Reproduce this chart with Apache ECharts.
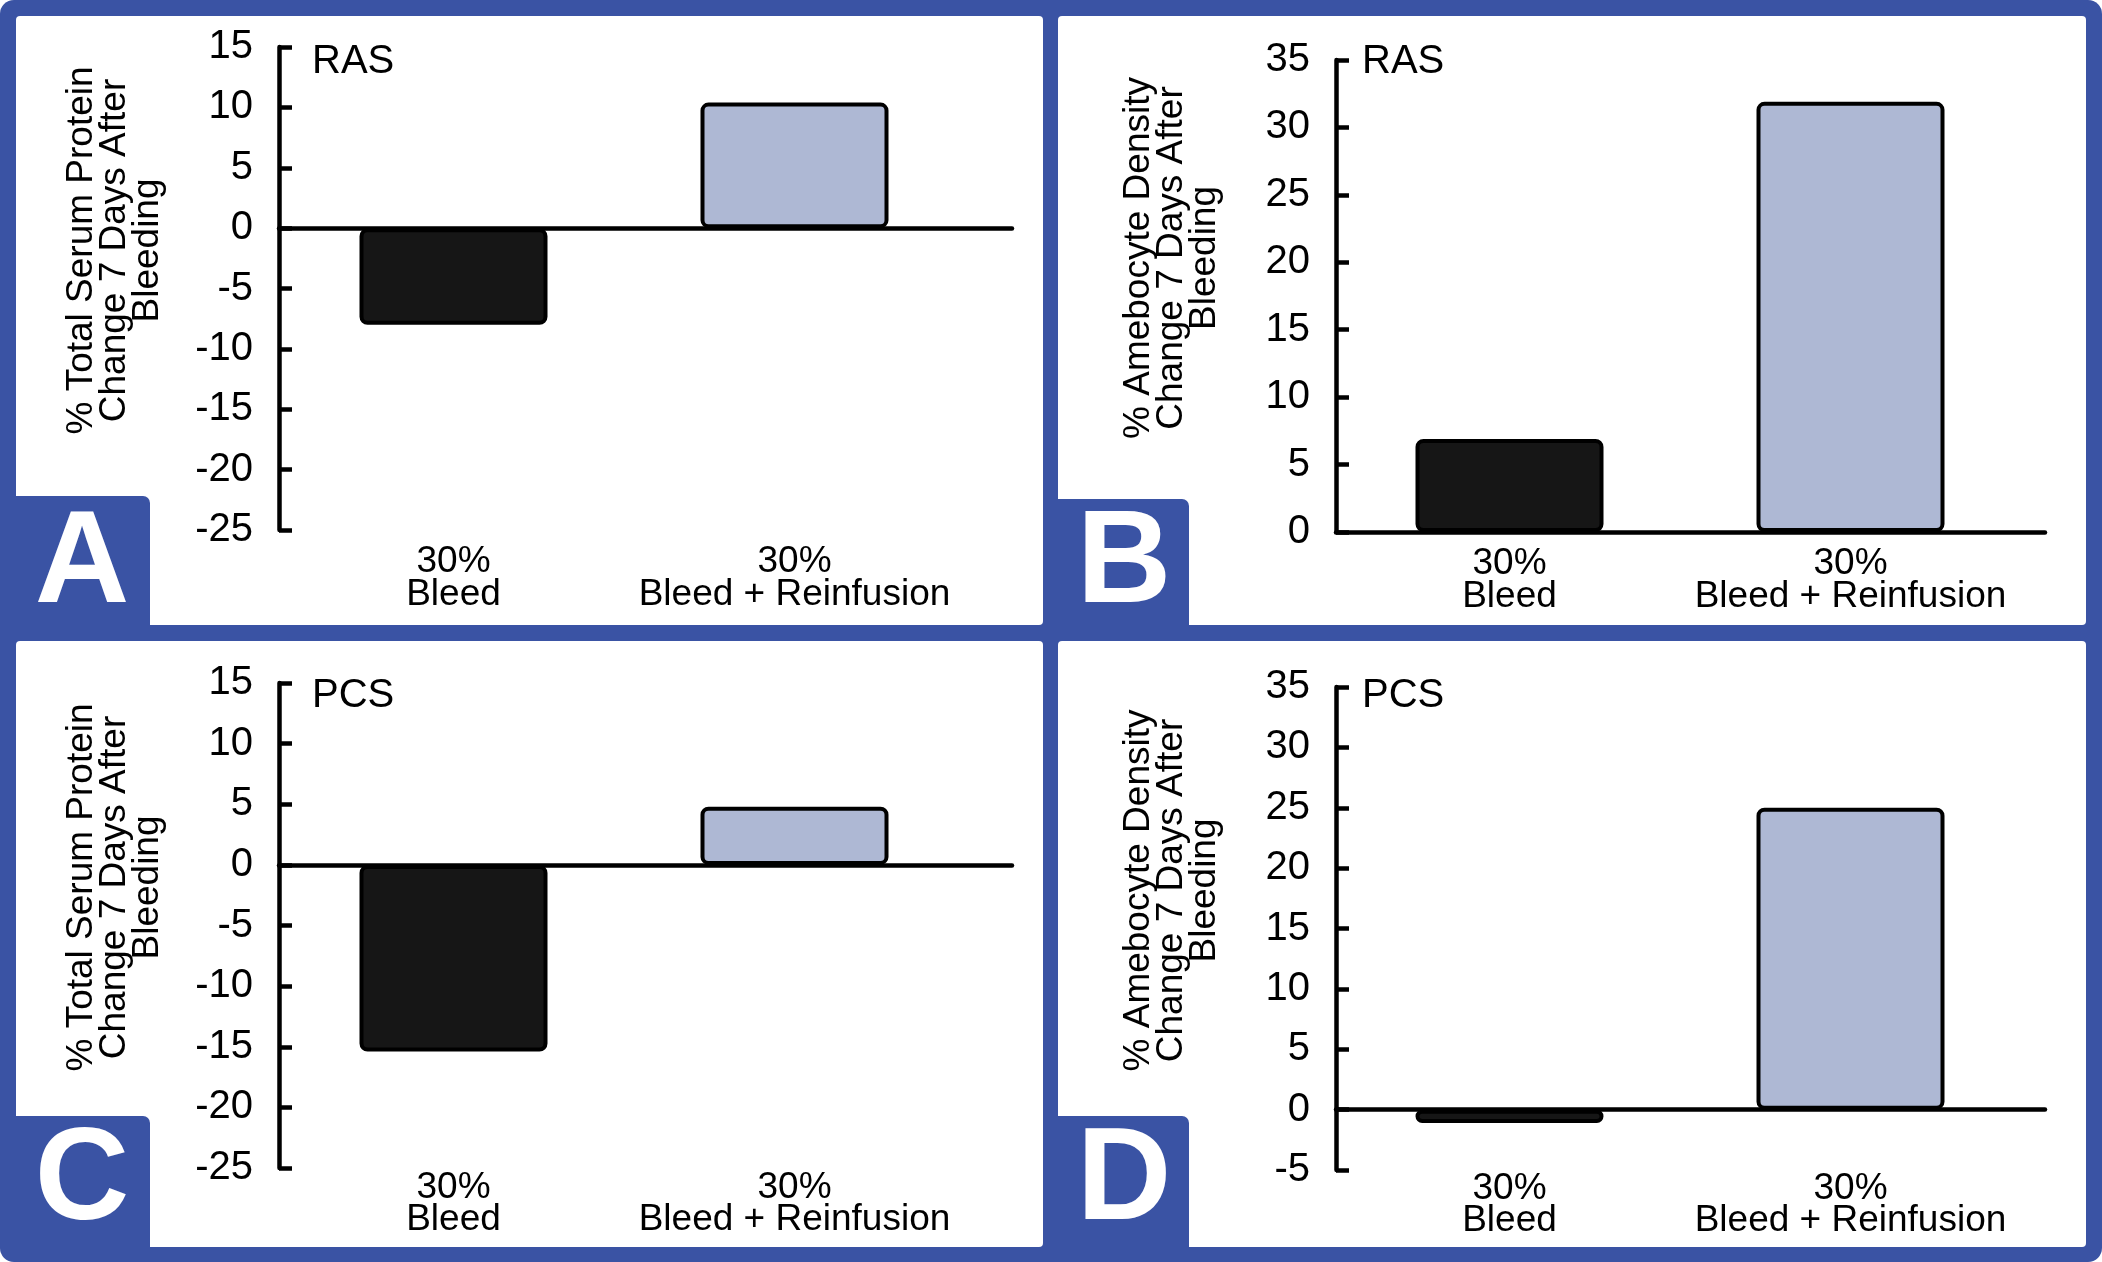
<!DOCTYPE html>
<html>
<head>
<meta charset="utf-8">
<title>Bleeding effects</title>
<script src="https://cdn.jsdelivr.net/npm/echarts@6/dist/echarts.min.js"></script>
<style>
  html, body { margin: 0; padding: 0; background: #fff; }
  #main { width: 2102px; height: 1262px; }
</style>
</head>
<body>
<div id="main"></div>
<script>
// data
var categories = ['30%\nBleed', '30%\nBleed + Reinfusion'];
var rasProtein = [-8.0, 10.4];
var rasAmebocyte = [6.9, 31.9];
var pcsProtein = [-15.4, 4.8];
var pcsAmebocyte = [-1.1, 25.0];
var barColors = ['#161616', '#aeb8d4'];
var proteinName = '% Total Serum Protein\nChange 7 Days After\nBleeding';
var amebocyteName = '% Amebocyte Density\nChange 7 Days After\nBleeding';

var FONT = "'Liberation Sans', Arial, sans-serif";
var BLUE = '#3a53a4';
var LW = 4.5;

// panel layout (pixels)
var panels = [
  {letter: 'A', tag: 'RAS', data: rasProtein, name: proteinName, min: -25, max: 15,
   axisX: 279, axisR: 1012, barsX: 283, top: 47, h: 483, labMargin: 15, labLH: 33,
   box: [16, 16, 1027, 609], lbox: [16, 496, 134, 129], lc: [82, 566], tagPos: [312, 42]},
  {letter: 'B', tag: 'RAS', data: rasAmebocyte, name: amebocyteName, min: 0, max: 35,
   axisX: 1336, axisR: 2045, barsX: 1339, top: 60, h: 472, labMargin: 15, labLH: 33,
   box: [1058, 16, 1028, 609], lbox: [1058, 499, 131, 126], lc: [1124, 566], tagPos: [1362, 42]},
  {letter: 'C', tag: 'PCS', data: pcsProtein, name: proteinName, min: -25, max: 15,
   axisX: 279, axisR: 1012, barsX: 283, top: 683, h: 485, labMargin: 4, labLH: 32,
   box: [16, 641, 1027, 606], lbox: [16, 1116, 134, 131], lc: [82, 1183], tagPos: [312, 676]},
  {letter: 'D', tag: 'PCS', data: pcsAmebocyte, name: amebocyteName, min: -5, max: 35,
   axisX: 1336, axisR: 2045, barsX: 1339, top: 687, h: 483, labMargin: 3, labLH: 32,
   box: [1058, 641, 1028, 606], lbox: [1058, 1116, 131, 131], lc: [1124, 1183], tagPos: [1362, 676]}
];

var grid = [], xAxis = [], yAxis = [], series = [], title = [];
var graphic = [{type: 'rect', shape: {x: 0, y: 0, width: 2102, height: 1262, r: 14},
  style: {fill: BLUE}, z: -10}];

panels.forEach(function (p, i) {
  var full = 2 * i, bars = 2 * i + 1;
  // grid carrying the visible y axis and the zero line
  grid.push({left: p.axisX, top: p.top, width: p.axisR - p.axisX, height: p.h});
  // grid carrying the bars and category labels
  grid.push({left: p.barsX, top: p.top, width: 682, height: p.h});

  xAxis.push({type: 'category', gridIndex: full, data: [''],
    axisLine: {onZero: true, lineStyle: {color: '#000', width: LW}},
    axisTick: {show: false}, axisLabel: {show: false}, splitLine: {show: false}});
  xAxis.push({type: 'category', gridIndex: bars, data: categories,
    axisLine: {show: false, onZero: false}, axisTick: {show: false},
    axisLabel: {interval: 0, margin: p.labMargin, color: '#000', fontFamily: FONT,
      fontSize: 37, lineHeight: p.labLH}});

  yAxis.push({type: 'value', gridIndex: full, min: p.min, max: p.max, interval: 5,
    name: p.name, nameLocation: 'middle', nameGap: 115, nameRotate: 90,
    nameTextStyle: {color: '#000', fontFamily: FONT, fontSize: 37, lineHeight: 33,
      padding: [0, 0, 0, 76]},
    axisLine: {show: true, lineStyle: {color: '#000', width: LW}},
    axisTick: {show: true, inside: true, length: 13, lineStyle: {color: '#000', width: LW}},
    axisLabel: {color: '#000', fontFamily: FONT, fontSize: 40, margin: 26},
    splitLine: {show: false}});
  yAxis.push({type: 'value', gridIndex: bars, min: p.min, max: p.max, interval: 5, show: false});

  series.push({type: 'bar', xAxisIndex: bars, yAxisIndex: bars, barWidth: 188,
    data: p.data.map(function (v, k) {
      return {value: v, itemStyle: {color: barColors[k]}};
    }),
    itemStyle: {borderColor: '#000', borderWidth: 4, borderRadius: 6},
    silent: true, animation: false});

  title.push({text: p.tag, left: p.tagPos[0], top: p.tagPos[1], padding: 0,
    textStyle: {color: '#000', fontFamily: FONT, fontSize: 40, fontWeight: 'normal', lineHeight: 40}});

  graphic.push({type: 'rect', shape: {x: p.box[0], y: p.box[1], width: p.box[2], height: p.box[3], r: 4},
    style: {fill: '#fff'}, z: -9});
  graphic.push({type: 'rect', shape: {x: p.lbox[0], y: p.lbox[1], width: p.lbox[2], height: p.lbox[3], r: [0, 7, 0, 0]},
    style: {fill: BLUE}, z: 10});
  graphic.push({type: 'text', x: p.lc[0], y: p.lc[1], z: 11,
    style: {text: p.letter, fill: '#fff', font: 'bold 131px ' + FONT, textAlign: 'center', textVerticalAlign: 'middle'}});
});

var chart = echarts.init(document.getElementById('main'), null, {renderer: 'canvas'});
chart.setOption({
  backgroundColor: '#fff',
  animation: false,
  title: title,
  grid: grid,
  xAxis: xAxis,
  yAxis: yAxis,
  series: series,
  graphic: graphic
});
</script>
</body>
</html>
